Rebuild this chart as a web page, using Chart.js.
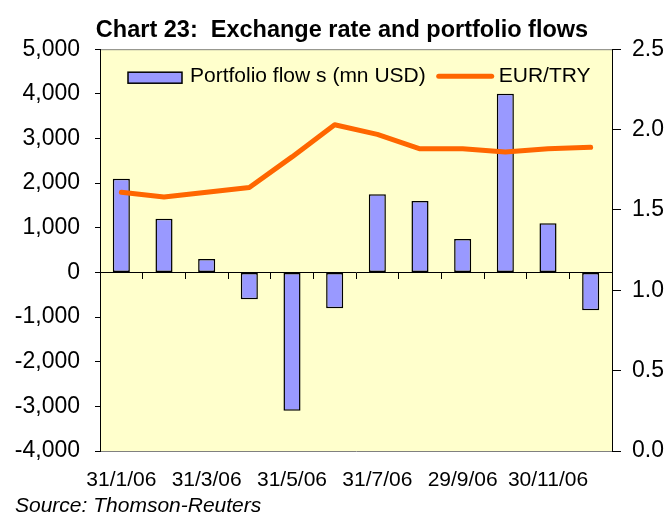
<!DOCTYPE html>
<html>
<head>
<meta charset="utf-8">
<script src="https://cdn.jsdelivr.net/npm/chart.js@4"></script>
<style>
html, body { margin: 0; padding: 0; background: #fff; }
</style>
</head>
<body>
<canvas id="chart" width="671" height="518"></canvas>
<script>
// month-end dates, Jan-Dec 2006
const months = ['31/1/06', '28/2/06', '31/3/06', '28/4/06', '31/5/06', '30/6/06',
                '31/7/06', '31/8/06', '29/9/06', '31/10/06', '30/11/06', '29/12/06'];
const tickLabels = ['31/1/06', '31/3/06', '31/5/06', '31/7/06', '29/9/06', '30/11/06'];

const flows = [2100, 1200, 300, -600, -3100, -800, 1750, 1600, 750, 4000, 1100, -850];
const eurTry = [1.61, 1.58, 1.61, 1.64, 1.83, 2.03, 1.97, 1.88, 1.88, 1.86, 1.88, 1.89];

Chart.defaults.font.family = '"Liberation Sans", Arial, sans-serif';
Chart.defaults.color = '#000';

// yellow plot background + grey top edge
const frame = {
    id: 'frame',
    beforeDraw(chart) {
        const {ctx, chartArea: a} = chart;
        ctx.save();
        ctx.fillStyle = '#FFFFCC';
        ctx.fillRect(a.left, a.top, a.right - a.left, a.bottom - a.top);
        ctx.strokeStyle = '#808080';
        ctx.lineWidth = 1;
        ctx.beginPath();
        ctx.moveTo(a.left, a.top + 0.5);
        ctx.lineTo(a.right, a.top + 0.5);
        ctx.stroke();
        ctx.restore();
    }
};

// legend drawn inside the plot, one row
const legendBox = {
    id: 'legendBox',
    afterDatasetsDraw(chart) {
        const {ctx, chartArea: a} = chart;
        const bar = chart.data.datasets[0];
        const line = chart.data.datasets[1];
        const y = a.top + 27;
        let x = a.left + 28;
        ctx.save();
        ctx.font = '21px "Liberation Sans", Arial, sans-serif';
        ctx.textBaseline = 'middle';
        ctx.fillStyle = bar.backgroundColor;
        ctx.fillRect(x, y - 4, 54, 11);
        ctx.lineWidth = 1.5;
        ctx.strokeStyle = '#000';
        ctx.strokeRect(x, y - 4, 54, 11);
        x += 62;
        ctx.fillStyle = '#000';
        ctx.fillText(bar.label, x, y);
        x += ctx.measureText(bar.label).width + 10;
        ctx.strokeStyle = line.borderColor;
        ctx.lineWidth = 5;
        ctx.lineCap = 'round';
        ctx.beginPath();
        ctx.moveTo(x + 3, y);
        ctx.lineTo(x + 56, y);
        ctx.stroke();
        x += 63;
        ctx.fillText(line.label, x, y);
        ctx.restore();
    }
};

new Chart(document.getElementById('chart'), {
    data: {
        labels: months,
        datasets: [
            {
                type: 'bar',
                label: 'Portfolio flow s (mn USD)',
                data: flows,
                backgroundColor: '#9999FF',
                borderColor: '#000',
                borderWidth: 1.5,
                borderSkipped: false,
                barPercentage: 0.4,
                categoryPercentage: 1,
                xAxisID: 'x',
                yAxisID: 'y',
                order: 2
            },
            {
                type: 'line',
                label: 'EUR/TRY',
                data: eurTry,
                borderColor: '#FF6600',
                borderWidth: 5,
                borderCapStyle: 'round',
                borderJoinStyle: 'round',
                pointRadius: 0,
                tension: 0,
                xAxisID: 'x',
                yAxisID: 'y1',
                order: 1
            }
        ]
    },
    options: {
        responsive: false,
        animation: false,
        layout: { padding: { left: 15, right: 2, top: 4, bottom: 1 } },
        scales: {
            x: {
                type: 'category',
                position: 'bottom',
                offset: true,
                grid: { display: false, drawTicks: false },
                border: { display: true, color: '#808080' },
                ticks: {
                    autoSkip: false,
                    maxRotation: 0,
                    padding: 17,
                    font: { size: 21 },
                    callback: (v, i) => tickLabels.includes(months[i]) ? months[i] : ''
                },
                afterFit: s => { s.height = 45; }
            },
            x0: {
                type: 'category',
                labels: months,
                position: { y: 0 },
                offset: true,
                grid: { offset: true, drawOnChartArea: false, tickLength: 6, color: '#000' },
                border: { color: '#000', width: 1 },
                ticks: { display: false },
                afterFit: s => { s.height = 0; }
            },
            y: {
                position: 'left',
                min: -4000,
                max: 5000,
                grid: { drawOnChartArea: false, tickLength: 5, color: '#000' },
                border: { color: '#000' },
                ticks: {
                    stepSize: 1000,
                    padding: 15,
                    font: { size: 23 },
                    callback: v => v.toLocaleString('en-US')
                },
                afterFit: s => { s.width = 85; }
            },
            y1: {
                position: 'right',
                min: 0,
                max: 2.5,
                grid: { drawOnChartArea: false, tickLength: 9, color: '#000' },
                border: { color: '#000' },
                ticks: {
                    stepSize: 0.5,
                    padding: 11,
                    font: { size: 23 },
                    callback: v => v.toFixed(1)
                },
                afterFit: s => { s.width = 57; }
            }
        },
        plugins: {
            legend: { display: false },
            tooltip: { enabled: false },
            title: {
                display: true,
                text: 'Chart 23:  Exchange rate and portfolio flows',
                font: { size: 23.5, weight: 'bold' },
                padding: { top: 12, bottom: 5 }
            },
            subtitle: {
                display: true,
                position: 'bottom',
                align: 'start',
                text: 'Source: Thomson-Reuters',
                font: { size: 21, style: 'italic', lineHeight: 1 },
                padding: { top: 0, bottom: 0 }
            }
        }
    },
    plugins: [frame, legendBox]
});
</script>
</body>
</html>
